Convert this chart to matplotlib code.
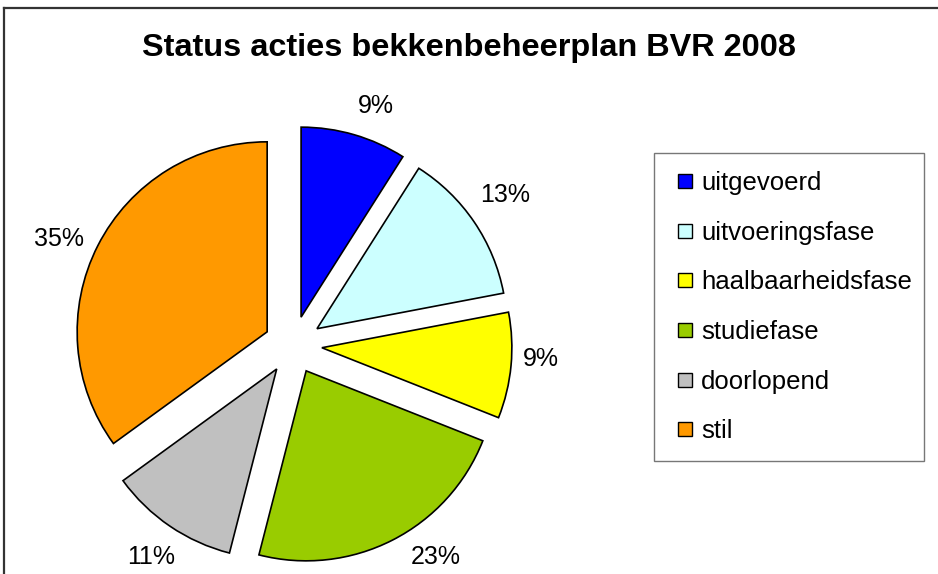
import matplotlib.pyplot as plt
from matplotlib.lines import Line2D

labels = ['uitgevoerd', 'uitvoeringsfase', 'haalbaarheidsfase',
          'studiefase', 'doorlopend', 'stil']
values = [9, 13, 9, 23, 11, 35]
colors = ['#0000FF', '#CCFFFF', '#FFFF00', '#99CC00', '#C0C0C0', '#FF9900']

# where Excel put the percentage labels (pixel centres, from the top)
label_pos = [(376, 106), (505, 195), (541, 359), (436, 557), (151, 557), (59, 239)]

plt.rcParams['font.family'] = ['Liberation Sans', 'DejaVu Sans']

W, H = 938, 574
fig = plt.figure(figsize=(W / 100, H / 100), dpi=100)

# frame lines of the chart area (top and left only visible)
fig.add_artist(Line2D([4/W, 4/W], [0, 1 - 8/H], color='#333333', lw=1.6))
fig.add_artist(Line2D([4/W, 1], [1 - 8/H, 1 - 8/H], color='#333333', lw=1.6))

ax = fig.add_axes([0, 0, 1, 1])
ax.axis('off')

# explode is in data units here (pixels), since radius is in pixels
wedges, texts, autotexts = ax.pie(
    values, colors=colors, startangle=90, counterclock=False,
    explode=[29] * len(values), radius=190, center=(293, H - 345),
    autopct='%1.0f%%', pctdistance=1.22,
    wedgeprops=dict(edgecolor='black', linewidth=1.2),
    textprops=dict(fontsize=18))
ax.set_xlim(0, W)
ax.set_ylim(0, H)
ax.set_aspect('equal')

for t, (px, py) in zip(autotexts, label_pos):
    t.set_position((px, H - py))

fig.text(0.5, 1 - 48/H, 'Status acties bekkenbeheerplan BVR 2008',
         ha='center', va='center', fontsize=23.4, fontweight='bold')

handles = [Line2D([], [], ls='none', marker='s', markersize=9.4,
                  markerfacecolor=c, markeredgecolor='black',
                  markeredgewidth=1.0) for c in colors]
leg = ax.legend(handles, labels, loc='upper left', mode='expand',
                bbox_to_anchor=(654/W, 1 - 153/H - 0.01, 270/W, 0.01),
                bbox_transform=fig.transFigure,
                fontsize=18.5, frameon=True, fancybox=False,
                edgecolor='#555555', handlelength=1.0,
                handletextpad=0.14, labelspacing=1.0, borderpad=0.7,
                borderaxespad=0)
leg.get_frame().set_linewidth(1.0)

fig.savefig('out.png', dpi=100)
